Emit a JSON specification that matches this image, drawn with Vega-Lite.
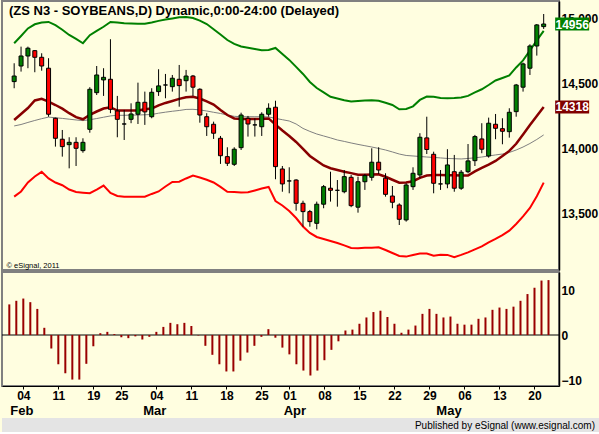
{
"$schema": "https://vega.github.io/schema/vega-lite/v6.json",
"background": "#FFFEE0",
"padding": 0,
"config": {"view": {"stroke": null}, "font": "Liberation Sans"},
"datasets": {
"bars": [
{"i":1,"d":"2013-01-31","o":14513,"h":14654,"l":14462,"c":14556,"up":14808,"mid":14218,"ma":14172,"lo":13628,"osc":6.8},
{"i":2,"d":"2013-02-01","o":14633,"h":14782,"l":14590,"c":14710,"up":14864,"mid":14264,"ma":14183,"lo":13668,"osc":7.6},
{"i":3,"d":"2013-02-04","o":14710,"h":14782,"l":14616,"c":14770,"up":14922,"mid":14310,"ma":14199,"lo":13737,"osc":8.1},
{"i":4,"d":"2013-02-05","o":14751,"h":14756,"l":14585,"c":14700,"up":14954,"mid":14368,"ma":14214,"lo":13783,"osc":7.3},
{"i":5,"d":"2013-02-06","o":14700,"h":14731,"l":14597,"c":14633,"up":14968,"mid":14380,"ma":14228,"lo":13819,"osc":5.8},
{"i":6,"d":"2013-02-07","o":14616,"h":14693,"l":14243,"c":14262,"up":14972,"mid":14359,"ma":14240,"lo":13768,"osc":1.6},
{"i":7,"d":"2013-02-08","o":14231,"h":14236,"l":14013,"c":14077,"up":14947,"mid":14333,"ma":14235,"lo":13737,"osc":-3.0},
{"i":8,"d":"2013-02-11","o":14070,"h":14141,"l":13936,"c":14013,"up":14912,"mid":14305,"ma":14230,"lo":13716,"osc":-6.5},
{"i":9,"d":"2013-02-12","o":14028,"h":14085,"l":13846,"c":14046,"up":14872,"mid":14270,"ma":14224,"lo":13683,"osc":-8.5},
{"i":10,"d":"2013-02-13","o":14046,"h":14085,"l":13864,"c":14000,"up":14841,"mid":14240,"ma":14218,"lo":13664,"osc":-9.9},
{"i":11,"d":"2013-02-14","o":13982,"h":14077,"l":13966,"c":14046,"up":14808,"mid":14223,"ma":14213,"lo":13659,"osc":-9.9},
{"i":12,"d":"2013-02-15","o":14146,"h":14470,"l":14120,"c":14454,"up":14870,"mid":14258,"ma":14220,"lo":13655,"osc":-6.4},
{"i":13,"d":"2013-02-19","o":14428,"h":14633,"l":14410,"c":14564,"up":14903,"mid":14283,"ma":14229,"lo":13683,"osc":-2.5},
{"i":14,"d":"2013-02-20","o":14526,"h":14616,"l":14403,"c":14546,"up":14935,"mid":14306,"ma":14239,"lo":13713,"osc":0.4},
{"i":15,"d":"2013-02-21","o":14531,"h":14839,"l":14270,"c":14300,"up":14972,"mid":14316,"ma":14249,"lo":13656,"osc":0.7},
{"i":16,"d":"2013-02-22","o":14287,"h":14403,"l":14085,"c":14223,"up":14968,"mid":14290,"ma":14254,"lo":13633,"osc":0.2},
{"i":17,"d":"2013-02-25","o":14187,"h":14295,"l":14064,"c":14187,"up":14962,"mid":14290,"ma":14254,"lo":13628,"osc":-0.5},
{"i":18,"d":"2013-02-26","o":14223,"h":14346,"l":14193,"c":14264,"up":14960,"mid":14290,"ma":14255,"lo":13628,"osc":-0.7},
{"i":19,"d":"2013-02-27","o":14262,"h":14505,"l":14187,"c":14354,"up":14958,"mid":14290,"ma":14256,"lo":13628,"osc":-0.3},
{"i":20,"d":"2013-02-28","o":14354,"h":14436,"l":14180,"c":14280,"up":14958,"mid":14300,"ma":14258,"lo":13628,"osc":-1.0},
{"i":21,"d":"2013-03-01","o":14243,"h":14462,"l":14231,"c":14431,"up":14968,"mid":14306,"ma":14260,"lo":13649,"osc":-0.4},
{"i":22,"d":"2013-03-04","o":14436,"h":14608,"l":14403,"c":14480,"up":14980,"mid":14330,"ma":14270,"lo":13668,"osc":0.7},
{"i":23,"d":"2013-03-05","o":14487,"h":14572,"l":14385,"c":14487,"up":14990,"mid":14349,"ma":14278,"lo":13706,"osc":1.8},
{"i":24,"d":"2013-03-06","o":14474,"h":14564,"l":14436,"c":14539,"up":14999,"mid":14364,"ma":14285,"lo":13741,"osc":2.7},
{"i":25,"d":"2013-03-07","o":14531,"h":14641,"l":14320,"c":14482,"up":15008,"mid":14380,"ma":14291,"lo":13743,"osc":2.4},
{"i":26,"d":"2013-03-08","o":14520,"h":14603,"l":14436,"c":14556,"up":15010,"mid":14393,"ma":14299,"lo":13768,"osc":2.7},
{"i":27,"d":"2013-03-11","o":14556,"h":14564,"l":14403,"c":14470,"up":15002,"mid":14396,"ma":14300,"lo":13791,"osc":2.0},
{"i":28,"d":"2013-03-12","o":14454,"h":14462,"l":14197,"c":14256,"up":14982,"mid":14383,"ma":14295,"lo":13776,"osc":-0.1},
{"i":29,"d":"2013-03-13","o":14243,"h":14270,"l":14095,"c":14166,"up":14956,"mid":14361,"ma":14287,"lo":13758,"osc":-2.4},
{"i":30,"d":"2013-03-14","o":14185,"h":14205,"l":14072,"c":14116,"up":14916,"mid":14336,"ma":14277,"lo":13737,"osc":-4.4},
{"i":31,"d":"2013-03-15","o":14077,"h":14095,"l":13880,"c":13943,"up":14876,"mid":14295,"ma":14268,"lo":13703,"osc":-6.5},
{"i":32,"d":"2013-03-18","o":13936,"h":14008,"l":13864,"c":13885,"up":14833,"mid":14256,"ma":14256,"lo":13666,"osc":-8.1},
{"i":33,"d":"2013-03-19","o":13877,"h":14008,"l":13864,"c":13993,"up":14803,"mid":14230,"ma":14246,"lo":13663,"osc":-8.1},
{"i":34,"d":"2013-03-20","o":14005,"h":14274,"l":13987,"c":14256,"up":14783,"mid":14226,"ma":14243,"lo":13660,"osc":-5.7},
{"i":35,"d":"2013-03-21","o":14231,"h":14249,"l":14090,"c":14187,"up":14773,"mid":14226,"ma":14243,"lo":13662,"osc":-3.9},
{"i":36,"d":"2013-03-22","o":14180,"h":14231,"l":14090,"c":14180,"up":14764,"mid":14226,"ma":14243,"lo":13676,"osc":-2.4},
{"i":37,"d":"2013-03-25","o":14166,"h":14277,"l":14095,"c":14262,"up":14755,"mid":14227,"ma":14243,"lo":13691,"osc":-0.4},
{"i":38,"d":"2013-03-26","o":14262,"h":14346,"l":14243,"c":14308,"up":14756,"mid":14230,"ma":14241,"lo":13703,"osc":1.3},
{"i":39,"d":"2013-03-27","o":14316,"h":14366,"l":13762,"c":13859,"up":14772,"mid":14182,"ma":14230,"lo":13595,"osc":-0.6},
{"i":40,"d":"2013-03-28","o":13841,"h":13864,"l":13666,"c":13726,"up":14726,"mid":14137,"ma":14220,"lo":13560,"osc":-2.8},
{"i":41,"d":"2013-04-01","o":13749,"h":13854,"l":13654,"c":13749,"up":14680,"mid":14095,"ma":14210,"lo":13518,"osc":-4.3},
{"i":42,"d":"2013-04-02","o":13756,"h":13762,"l":13520,"c":13577,"up":14626,"mid":14049,"ma":14187,"lo":13464,"osc":-6.5},
{"i":43,"d":"2013-04-03","o":13577,"h":13597,"l":13397,"c":13513,"up":14572,"mid":13995,"ma":14153,"lo":13399,"osc":-7.9},
{"i":44,"d":"2013-04-04","o":13513,"h":13526,"l":13397,"c":13436,"up":14510,"mid":13941,"ma":14130,"lo":13349,"osc":-9.0},
{"i":45,"d":"2013-04-05","o":13423,"h":13590,"l":13377,"c":13570,"up":14464,"mid":13904,"ma":14110,"lo":13318,"osc":-7.9},
{"i":46,"d":"2013-04-08","o":13570,"h":13718,"l":13539,"c":13705,"up":14430,"mid":13868,"ma":14095,"lo":13303,"osc":-5.6},
{"i":47,"d":"2013-04-09","o":13693,"h":13820,"l":13590,"c":13677,"up":14396,"mid":13847,"ma":14080,"lo":13287,"osc":-3.3},
{"i":48,"d":"2013-04-10","o":13677,"h":13756,"l":13551,"c":13677,"up":14383,"mid":13833,"ma":14064,"lo":13272,"osc":-1.4},
{"i":49,"d":"2013-04-11","o":13666,"h":13833,"l":13654,"c":13782,"up":14370,"mid":13820,"ma":14053,"lo":13253,"osc":1.0},
{"i":50,"d":"2013-04-12","o":13777,"h":13795,"l":13547,"c":13559,"up":14360,"mid":13809,"ma":14041,"lo":13233,"osc":1.2},
{"i":51,"d":"2013-04-15","o":13547,"h":13782,"l":13505,"c":13743,"up":14364,"mid":13797,"ma":14030,"lo":13232,"osc":2.5},
{"i":52,"d":"2013-04-16","o":13743,"h":13803,"l":13680,"c":13790,"up":14368,"mid":13796,"ma":14020,"lo":13235,"osc":3.9},
{"i":53,"d":"2013-04-17","o":13777,"h":14000,"l":13751,"c":13893,"up":14370,"mid":13798,"ma":14010,"lo":13236,"osc":5.1},
{"i":54,"d":"2013-04-18","o":13893,"h":14008,"l":13803,"c":13833,"up":14366,"mid":13800,"ma":13999,"lo":13239,"osc":5.4},
{"i":55,"d":"2013-04-19","o":13770,"h":13808,"l":13628,"c":13646,"up":14350,"mid":13781,"ma":13987,"lo":13218,"osc":4.0},
{"i":56,"d":"2013-04-22","o":13633,"h":13710,"l":13539,"c":13585,"up":14333,"mid":13758,"ma":13972,"lo":13195,"osc":2.5},
{"i":57,"d":"2013-04-23","o":13564,"h":13577,"l":13410,"c":13454,"up":14300,"mid":13736,"ma":13956,"lo":13172,"osc":0.5},
{"i":58,"d":"2013-04-24","o":13449,"h":13731,"l":13436,"c":13718,"up":14303,"mid":13737,"ma":13945,"lo":13167,"osc":1.2},
{"i":59,"d":"2013-04-25","o":13705,"h":13854,"l":13680,"c":13808,"up":14323,"mid":13747,"ma":13941,"lo":13180,"osc":2.1},
{"i":60,"d":"2013-04-26","o":13795,"h":14116,"l":13770,"c":14085,"up":14372,"mid":13773,"ma":13937,"lo":13190,"osc":4.7},
{"i":61,"d":"2013-04-29","o":14080,"h":14243,"l":13956,"c":13991,"up":14398,"mid":13791,"ma":13933,"lo":13191,"osc":5.8},
{"i":62,"d":"2013-04-30","o":13954,"h":13974,"l":13654,"c":13731,"up":14396,"mid":13795,"ma":13930,"lo":13174,"osc":4.7},
{"i":63,"d":"2013-05-01","o":13726,"h":13833,"l":13680,"c":13726,"up":14387,"mid":13795,"ma":13926,"lo":13182,"osc":3.9},
{"i":64,"d":"2013-05-02","o":13726,"h":13993,"l":13693,"c":13872,"up":14385,"mid":13793,"ma":13922,"lo":13180,"osc":4.1},
{"i":65,"d":"2013-05-03","o":13820,"h":13949,"l":13666,"c":13693,"up":14387,"mid":13792,"ma":13920,"lo":13162,"osc":2.5},
{"i":66,"d":"2013-05-06","o":13693,"h":13833,"l":13680,"c":13816,"up":14391,"mid":13791,"ma":13918,"lo":13180,"osc":2.3},
{"i":67,"d":"2013-05-07","o":13820,"h":14033,"l":13808,"c":13903,"up":14403,"mid":13790,"ma":13922,"lo":13200,"osc":2.3},
{"i":68,"d":"2013-05-08","o":13905,"h":14103,"l":13864,"c":14090,"up":14430,"mid":13822,"ma":13927,"lo":13223,"osc":3.6},
{"i":69,"d":"2013-05-09","o":14072,"h":14193,"l":13962,"c":13993,"up":14454,"mid":13849,"ma":13933,"lo":13245,"osc":3.9},
{"i":70,"d":"2013-05-10","o":13941,"h":14236,"l":13928,"c":14193,"up":14487,"mid":13875,"ma":13941,"lo":13276,"osc":5.6},
{"i":71,"d":"2013-05-13","o":14185,"h":14264,"l":14070,"c":14154,"up":14522,"mid":13903,"ma":13949,"lo":13303,"osc":6.1},
{"i":72,"d":"2013-05-14","o":14151,"h":14231,"l":14031,"c":14131,"up":14541,"mid":13940,"ma":13956,"lo":13332,"osc":5.8},
{"i":73,"d":"2013-05-15","o":14128,"h":14308,"l":14082,"c":14277,"up":14560,"mid":13980,"ma":13968,"lo":13367,"osc":6.3},
{"i":74,"d":"2013-05-16","o":14282,"h":14495,"l":14243,"c":14487,"up":14622,"mid":14035,"ma":13987,"lo":13418,"osc":7.6},
{"i":75,"d":"2013-05-17","o":14470,"h":14659,"l":14436,"c":14649,"up":14676,"mid":14106,"ma":14010,"lo":13476,"osc":9.1},
{"i":76,"d":"2013-05-20","o":14616,"h":14800,"l":14564,"c":14787,"up":14752,"mid":14180,"ma":14037,"lo":13541,"osc":10.5},
{"i":77,"d":"2013-05-21","o":14787,"h":14956,"l":14713,"c":14949,"up":14830,"mid":14249,"ma":14068,"lo":13631,"osc":12.1},
{"i":78,"d":"2013-05-22","o":14936,"h":15033,"l":14918,"c":14956,"up":14903,"mid":14318,"ma":14103,"lo":13736,"osc":12.2}
],
"tags": [
{"name":"Close","p":14956,"label":"14956"},
{"name":"Mid","p":14318,"label":"14318"}
]
},
"spacing": 0,
"resolve": {"scale": {"x": "independent", "y": "independent"}},
"vconcat": [
{
"width": 557, "height": 269,
"view": {"stroke": "#808080", "strokeWidth": 2},
"layer": [
{"data": {"name": "bars"},
"mark": {"type": "line", "color": "#808080", "strokeWidth": 1},
"encoding": {
"x": {"field": "i", "type": "quantitative", "scale": {"domain": [-0.0429, 79.5], "nice": false, "zero": false},
"axis": {"orient": "bottom", "domain": false, "ticks": false, "labels": false, "grid": false, "title": "© eSignal, 2011", "titleAnchor": "start", "titleAlign": "left", "titleBaseline": "alphabetic", "titleFont": "Liberation Sans", "titleFontSize": 7.5, "titleFontWeight": "normal", "titleColor": "#000000", "titleX": 4, "titleY": -3, "minExtent": 0, "maxExtent": 0}},
"y": {"field": "ma", "type": "quantitative", "scale": {"domain": [13064, 15133], "nice": false, "zero": false},
"axis": {"orient": "right", "values": [13500, 14000, 14500, 15000], "ticks": false, "grid": false, "title": null, "labelPadding": 2, "domainColor": "#000000", "domainWidth": 1.5, "labelFont": "Liberation Sans", "labelFontSize": 12, "labelFontWeight": "bold", "labelColor": "#000000", "zindex": 0}}}},
{"data": {"name": "bars"},
"mark": {"type": "line", "color": "#008000", "strokeWidth": 2},
"encoding": {"x": {"field": "i", "type": "quantitative"}, "y": {"field": "up", "type": "quantitative", "axis": {"title": null}}}},
{"data": {"name": "bars"},
"mark": {"type": "line", "color": "#FF0000", "strokeWidth": 2},
"encoding": {"x": {"field": "i", "type": "quantitative"}, "y": {"field": "lo", "type": "quantitative", "axis": {"title": null}}}},
{"data": {"name": "bars"},
"mark": {"type": "line", "color": "#880000", "strokeWidth": 2.5},
"encoding": {"x": {"field": "i", "type": "quantitative"}, "y": {"field": "mid", "type": "quantitative", "axis": {"title": null}}}},
{"data": {"name": "bars"},
"mark": {"type": "rule", "color": "#000000", "strokeWidth": 1},
"encoding": {"x": {"field": "i", "type": "quantitative"}, "y": {"field": "l", "type": "quantitative", "axis": {"title": null}}, "y2": {"field": "h"}}},
{"data": {"name": "bars"},
"mark": {"type": "bar", "size": 4, "stroke": "#000000", "strokeWidth": 1},
"encoding": {"x": {"field": "i", "type": "quantitative"}, "y": {"field": "o", "type": "quantitative", "axis": {"title": null}}, "y2": {"field": "c"},
"fill": {"condition": {"test": "datum.c >= datum.o", "value": "#008000"}, "value": "#FF0000"}}},
{"data": {"values": [{"note": "(ZS N3 - SOYBEANS,D) Dynamic,0:00-24:00 (Delayed)"}]},
"mark": {"type": "text", "align": "left", "baseline": "alphabetic", "font": "Liberation Sans", "fontSize": 13, "fontWeight": "bold", "color": "#000000"},
"encoding": {"x": {"datum": 0.243, "type": "quantitative"}, "y": {"datum": 15026, "type": "quantitative", "axis": {"title": null}}, "text": {"field": "note"}}},
{"data": {"name": "tags"},
"mark": {"type": "point", "shape": "M-1,-0.38L1,-0.38L1,0.38L-1,0.38Z", "size": 1156, "filled": true, "opacity": 1},
"encoding": {"x": {"datum": 82.14, "type": "quantitative"}, "y": {"field": "p", "type": "quantitative", "axis": {"title": null}},
"fill": {"field": "name", "type": "nominal", "scale": {"domain": ["Close", "Mid"], "range": ["#008000", "#800000"]}, "legend": null}}},
{"data": {"name": "tags"},
"mark": {"type": "text", "font": "Liberation Sans", "fontSize": 12, "fontWeight": "bold", "color": "#FFFFFF", "align": "center", "baseline": "middle", "dy": 0.5},
"encoding": {"x": {"datum": 82.14, "type": "quantitative"}, "y": {"field": "p", "type": "quantitative", "axis": {"title": null}}, "text": {"field": "label"}}}
]
},
{
"width": 557, "height": 114,
"view": {"stroke": "#808080", "strokeWidth": 2},
"resolve": {"axis": {"x": "independent"}},
"layer": [
{"data": {"values": [{}]},
"mark": {"type": "rule", "color": "#000000", "strokeWidth": 1},
"encoding": {
"x": {"datum": -0.0429, "type": "quantitative", "scale": {"domain": [-0.0429, 79.5], "nice": false, "zero": false},
"axis": {"orient": "bottom", "values": [2, 21, 41, 63], "labelExpr": "['Feb','Mar','Apr','May'][indexof([2,21,41,63], datum.value)]", "ticks": false, "domain": false, "grid": false, "title": null, "labelPadding": 18, "labelOffset": 5, "labelFlush": false, "labelOverlap": false, "labelFont": "Liberation Sans", "labelFontSize": 13, "labelFontWeight": "bold", "labelColor": "#000000"}},
"x2": {"datum": 79.5},
"y": {"datum": 0, "type": "quantitative", "axis": {"title": null}}
}},
{"data": {"name": "bars"},
"mark": {"type": "rule", "color": "#990000", "strokeWidth": 2},
"encoding": {
"x": {"field": "i", "type": "quantitative", "scale": {"domain": [-0.0429, 79.5], "nice": false, "zero": false},
"axis": {"orient": "bottom", "values": [3, 8, 13, 17, 22, 27, 32, 37, 41, 46, 51, 56, 61, 66, 71, 76], "labelExpr": "['04','11','19','25','04','11','18','25','01','08','15','22','29','06','13','20'][indexof([3,8,13,17,22,27,32,37,41,46,51,56,61,66,71,76], datum.value)]", "tickSize": 3, "tickColor": "#000000", "domainColor": "#000000", "domainWidth": 1, "grid": false, "title": null, "labelPadding": 1, "labelFlush": false, "labelOverlap": false, "labelFont": "Liberation Sans", "labelFontSize": 12, "labelFontWeight": "bold", "labelColor": "#000000"}},
"y": {"field": "osc", "type": "quantitative", "scale": {"domain": [-11.33, 14.0], "nice": false, "zero": false},
"axis": {"orient": "right", "values": [-10, 0, 10], "ticks": false, "grid": false, "title": null, "labelPadding": 2, "domainColor": "#000000", "domainWidth": 1.5, "labelFont": "Liberation Sans", "labelFontSize": 12, "labelFontWeight": "bold", "labelColor": "#000000", "zindex": 1}},
"y2": {"datum": 0}
}}
]
},
{
"width": 598, "height": 14,
"view": {"fill": "#E4E4E4", "stroke": null},
"data": {"values": [{"note": "Published by eSignal (www.esignal.com)"}]},
"mark": {"type": "text", "align": "right", "baseline": "alphabetic", "font": "Liberation Sans", "fontSize": 10, "color": "#000000", "dx": -5, "dy": -3},
"encoding": {"text": {"field": "note"}, "x": {"value": "width"}, "y": {"value": "height"}}
}
]
}
